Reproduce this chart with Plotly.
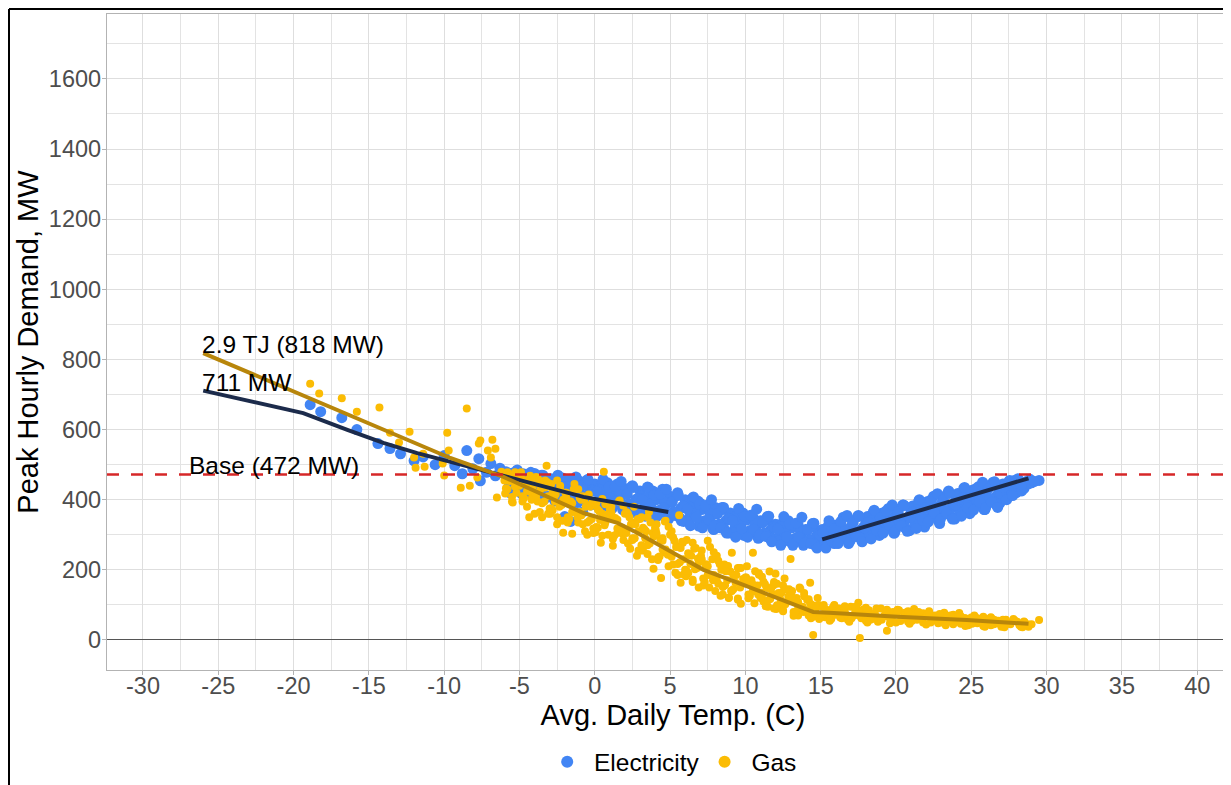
import plotly.graph_objects as go

# ---------------- data ----------------
elec_temp = [
    -18.9, -18.2, -16.8, -15.8, -14.4, -13.6, -12.9, -12.0, -11.4, -10.6, -10.0, -9.3, -8.8, -8.5, -8.1,
    -7.7, -7.6, -7.2, -6.9, -6.6, -6.3,
    -5.9, -5.7, -5.5, -5.3, -5.1, -5.0,
    -4.9, -4.7, -4.5, -4.3, -4.1, -4.0,
    -3.9, -3.7, -3.5, -3.3, -3.1, -3.0,
    -2.9, -2.7, -2.5, -2.3, -2.1, -2.0,
    -1.9, -1.7, -1.5, -1.3, -1.1, -1.0,
    -0.9, -0.7, -0.5, -0.3, -0.1, 0.0,
    0.1, 0.3, 0.5, 0.7, 0.9, 1.0,
    1.1, 1.3, 1.5, 1.7, 1.9, 2.0,
    2.1, 2.3, 2.5, 2.7, 2.9, 3.0,
    3.1, 3.3, 3.5, 3.7, 3.9, 4.0,
    4.1, 4.3, 4.5, 4.7, 4.9, 5.0,
    5.1, 5.3, 5.5, 5.7, 5.9, 6.0,
    6.1, 6.3, 6.5, 6.7, 6.9, 7.0,
    7.1, 7.3, 7.5, 7.7, 7.9, 8.0,
    8.1, 8.3, 8.5, 8.7, 8.9, 9.0,
    9.1, 9.3, 9.5, 9.7, 9.9, 10.0,
    10.1, 10.3, 10.5, 10.7, 10.9, 11.0,
    11.1, 11.3, 11.5, 11.7, 11.9, 12.0,
    12.1, 12.3, 12.5, 12.7, 12.9, 13.0,
    13.1, 13.3, 13.5, 13.7, 13.9, 14.0,
    14.1, 14.3, 14.5, 14.7, 14.9, 15.0,
    15.1, 15.3, 15.5, 15.7, 15.9, 16.0,
    16.1, 16.3, 16.5, 16.7, 16.9, 17.0,
    17.1, 17.3, 17.5, 17.7, 17.9, 18.0,
    18.1, 18.3, 18.5, 18.7, 18.9, 19.0,
    19.1, 19.3, 19.5, 19.7, 19.9, 20.0,
    20.1, 20.3, 20.5, 20.7, 20.9, 21.0,
    21.1, 21.3, 21.5, 21.7, 21.9, 22.0,
    22.1, 22.3, 22.5, 22.7, 22.9, 23.0,
    23.1, 23.3, 23.5, 23.7, 23.9, 24.0,
    24.1, 24.3, 24.5, 24.7, 24.9, 25.0,
    25.1, 25.3, 25.5, 25.7, 25.9, 26.0,
    26.1, 26.3, 26.5, 26.7, 26.9, 27.0,
    27.1, 27.3, 27.5, 27.7, 27.9, 28.0,
    28.2, 28.5, 28.8, 29.5,
    # second pass
    -5.75, -5.55, -5.35, -5.15, -4.75, -4.55, -4.35, -4.15,
    -3.75, -3.55, -3.35, -3.15, -2.75, -2.55, -2.35, -2.15,
    -1.75, -1.55, -1.35, -1.15, -0.75, -0.55, -0.35, -0.15,
    0.25, 0.45, 0.65, 0.85, 1.25, 1.45, 1.65, 1.85,
    2.25, 2.45, 2.65, 2.85, 3.25, 3.45, 3.65, 3.85,
    4.25, 4.45, 4.65, 4.85, 5.25, 5.45, 5.65, 5.85,
    6.25, 6.45, 6.65, 6.85, 7.25, 7.45, 7.65, 7.85,
    8.25, 8.45, 8.65, 8.85, 9.25, 9.45, 9.65, 9.85,
    10.25, 10.45, 10.65, 10.85, 11.25, 11.45, 11.65, 11.85,
    12.25, 12.45, 12.65, 12.85, 13.25, 13.45, 13.65, 13.85,
    14.25, 14.45, 14.65, 14.85, 15.25, 15.45, 15.65, 15.85,
    16.25, 16.45, 16.65, 16.85, 17.25, 17.45, 17.65, 17.85,
    18.25, 18.45, 18.65, 18.85, 19.25, 19.45, 19.65, 19.85,
    20.25, 20.45, 20.65, 20.85, 21.25, 21.45, 21.65, 21.85,
    22.25, 22.45, 22.65, 22.85, 23.25, 23.45, 23.65, 23.85,
    24.25, 24.45, 24.65, 24.85, 25.25, 25.45, 25.65, 25.85,
    26.25, 26.45, 26.65, 26.85, 27.25, 27.45, 27.65, 27.85,
    28.1, 28.35, 28.65, 29.0, -2.0, -1.6, -0.8,
    # third pass
    -5.85, -5.65, -5.45, -5.25, -5.05, -4.85, -4.65, -4.45, -4.25, -4.05,
    -3.85, -3.65, -3.45, -3.25, -3.05, -2.85, -2.65, -2.45, -2.25, -2.05,
    -1.85, -1.65, -1.45, -1.25, -1.05, -0.85, -0.65, -0.45, -0.25, -0.05,
    0.15, 0.35, 0.55, 0.75, 0.95, 1.15, 1.35, 1.55, 1.75, 1.95,
    2.15, 2.35, 2.55, 2.75, 2.95, 3.15, 3.35, 3.55, 3.75, 3.95,
    4.15, 4.35, 4.55, 4.75, 4.95, 5.15, 5.35, 5.55, 5.75, 5.95,
    6.15, 6.35, 6.55, 6.75, 6.95, 7.15, 7.35, 7.55, 7.75, 7.95,
    8.15, 8.35, 8.55, 8.75, 8.95, 9.15, 9.35, 9.55, 9.75, 9.95,
    10.15, 10.35, 10.55, 10.75, 10.95, 11.15, 11.35, 11.55, 11.75, 11.95,
    12.15, 12.35, 12.55, 12.75, 12.95, 13.15, 13.35, 13.55, 13.75, 13.95,
    14.15, 14.35, 14.55, 14.75, 14.95, 15.15, 15.35, 15.55, 15.75, 15.95,
    16.15, 16.35, 16.55, 16.75, 16.95, 17.15, 17.35, 17.55, 17.75, 17.95,
    18.15, 18.35, 18.55, 18.75, 18.95, 19.15, 19.35, 19.55, 19.75, 19.95,
    20.15, 20.35, 20.55, 20.75, 20.95, 21.15, 21.35, 21.55, 21.75, 21.95,
    22.15, 22.35, 22.55, 22.75, 22.95, 23.15, 23.35, 23.55, 23.75, 23.95,
    24.15, 24.35, 24.55, 24.75, 24.95, 25.15, 25.35, 25.55, 25.75, 25.95,
    26.15, 26.35, 26.55, 26.75, 26.95, 27.15, 27.35, 27.55, 27.75, 27.95,
    28.3, 28.9, 29.2,
]
elec_mw = [
    671, 651, 634, 600, 560, 546, 531, 511, 522, 500, 526, 497, 474, 540, 488,
    517, 454, 478, 503, 468, 490,
    480, 450, 470, 440, 462, 430,
    470, 445, 425, 460, 438, 475,
    455, 420, 440, 462, 410, 445,
    460, 425, 445, 400, 452, 430,
    415, 448, 395, 438, 455, 420,
    440, 405, 450, 425, 390, 445,
    430, 400, 448, 415, 380, 440,
    420, 395, 445, 405, 372, 432,
    415, 385, 440, 400, 365, 425,
    410, 378, 436, 392, 355, 420,
    400, 370, 430, 385, 345, 410,
    392, 360, 420, 375, 338, 400,
    385, 350, 405, 362, 325, 390,
    372, 340, 385, 350, 315, 378,
    360, 330, 372, 340, 305, 362,
    350, 318, 360, 330, 298, 352,
    342, 312, 350, 322, 292, 340,
    335, 305, 342, 315, 288, 330,
    328, 298, 335, 308, 282, 322,
    320, 290, 328, 300, 275, 315,
    312, 285, 322, 295, 272, 308,
    315, 283, 325, 298, 275, 310,
    328, 290, 350, 305, 282, 322,
    340, 300, 355, 315, 290, 335,
    352, 310, 365, 325, 298, 345,
    362, 320, 375, 335, 305, 355,
    372, 330, 385, 345, 312, 365,
    382, 340, 395, 355, 322, 375,
    395, 350, 410, 365, 332, 388,
    408, 362, 425, 378, 345, 400,
    418, 375, 432, 390, 360, 410,
    428, 388, 438, 400, 372, 420,
    440, 400, 448, 412, 390, 430,
    445, 415, 452, 425, 440, 420,
    450, 432, 445, 455,
    # second pass
    432, 474, 454, 485, 474, 430, 457, 414,
    430, 470, 413, 447, 408, 450, 430, 462,
    452, 408, 435, 392, 410, 455, 393, 427,
    388, 430, 410, 448, 432, 388, 415, 372,
    387, 437, 370, 404, 365, 407, 387, 425,
    410, 366, 393, 350, 365, 412, 348, 382,
    338, 380, 360, 396, 377, 333, 360, 317,
    330, 378, 313, 347, 305, 347, 327, 362,
    350, 306, 333, 290, 305, 352, 288, 322,
    282, 324, 304, 340, 327, 283, 310, 270,
    285, 332, 270, 302, 272, 312, 292, 328,
    332, 288, 315, 275, 305, 352, 290, 322,
    300, 342, 322, 360, 362, 318, 345, 305,
    335, 385, 318, 352, 330, 372, 352, 390,
    394, 350, 377, 338, 370, 420, 353, 387,
    365, 407, 387, 425, 427, 383, 410, 372,
    403, 450, 386, 420, 405, 442, 422, 455,
    460, 425, 452, 448, 352, 338, 365,
    # third pass
    467, 420, 476, 444, 470, 417, 472, 440, 478, 424,
    460, 420, 470, 405, 445, 443, 396, 470, 420, 456,
    395, 458, 418, 465, 402, 440, 400, 458, 385, 425,
    423, 376, 458, 400, 436, 375, 438, 398, 452, 382,
    417, 377, 435, 362, 402, 400, 353, 435, 377, 413,
    353, 416, 376, 430, 360, 395, 355, 413, 340, 380,
    373, 326, 408, 350, 386, 320, 383, 343, 400, 327,
    360, 320, 378, 305, 345, 340, 293, 375, 317, 353,
    293, 356, 316, 373, 300, 335, 295, 353, 280, 320,
    317, 270, 352, 294, 330, 270, 333, 293, 350, 277,
    315, 275, 333, 262, 300, 305, 262, 340, 282, 318,
    275, 338, 298, 355, 282, 335, 295, 353, 280, 320,
    335, 288, 370, 312, 348, 305, 368, 328, 385, 312,
    365, 325, 383, 310, 350, 365, 318, 400, 342, 378,
    337, 400, 360, 417, 344, 400, 360, 418, 345, 385,
    400, 353, 435, 377, 413, 370, 433, 393, 450, 377,
    433, 393, 451, 378, 418, 435, 400, 455, 412, 448,
    443, 458, 452,
]

gas_temp = [
    -18.9, -18.3, -16.8, -15.8, -14.3, -13.6, -13.0, -12.3, -12.0, -11.9, -11.4, -11.3,
    -10.1, -10.0, -9.8, -9.7, -8.9, -8.5, -8.3, -7.8, -7.7, -7.6, -7.1, -6.9, -6.8, -6.6,
    -6.5, -6.2, -6.0,
    -5.9, -5.8, -5.6, -5.5, -5.3, -5.2, -5.1, -5.0,
    -4.9, -4.8, -4.6, -4.5, -4.3, -4.2, -4.1, -4.0,
    -3.9, -3.8, -3.6, -3.5, -3.3, -3.2, -3.1, -3.0,
    -2.9, -2.8, -2.6, -2.5, -2.3, -2.2, -2.1, -2.0,
    -1.9, -1.8, -1.6, -1.5, -1.4, -1.2, -1.1, -1.0,
    -0.9, -0.8, -0.6, -0.5, -0.4, -0.2, -0.1, 0.0,
    0.1, 0.2, 0.4, 0.5, 0.6, 0.7, 0.9, 1.0,
    1.1, 1.2, 1.4, 1.5, 1.6, 1.8, 1.9, 2.0,
    2.1, 2.2, 2.4, 2.5, 2.6, 2.8, 2.9, 3.0,
    3.1, 3.2, 3.4, 3.5, 3.6, 3.8, 3.9, 4.0,
    4.1, 4.2, 4.4, 4.5, 4.6, 4.7, 4.9, 5.0,
    5.1, 5.2, 5.4, 5.5, 5.6, 5.7, 5.8, 5.9, 6.0,
    6.1, 6.2, 6.4, 6.5, 6.6, 6.8, 6.9, 7.0,
    7.1, 7.2, 7.4, 7.5, 7.6, 7.8, 7.9, 8.0,
    8.1, 8.2, 8.4, 8.5, 8.6, 8.8, 8.9, 9.0,
    9.1, 9.2, 9.4, 9.5, 9.6, 9.7, 9.8, 10.0,
    10.1, 10.2, 10.4, 10.5, 10.6, 10.8, 10.9, 11.0,
    11.1, 11.2, 11.4, 11.5, 11.6, 11.8, 11.9, 12.0,
    12.1, 12.2, 12.4, 12.5, 12.6, 12.8, 12.9, 13.0,
    13.1, 13.2, 13.4, 13.5, 13.6, 13.8, 13.9, 14.0,
    14.1, 14.2, 14.3, 14.4, 14.5, 14.6, 14.8, 14.9,
    15.1, 15.3, 15.5, 15.7, 15.9, 16.0,
    16.2, 16.4, 16.6, 16.8, 17.0, 17.2,
    17.4, 17.5, 17.6, 17.7, 17.9, 18.0,
    18.2, 18.4, 18.6, 18.8, 19.0, 19.2,
    19.4, 19.5, 19.7, 19.9, 20.0, 20.2,
    20.4, 20.6, 20.8, 21.0, 21.2, 21.4,
    21.6, 21.8, 22.0, 22.2, 22.4, 22.6,
    22.8, 23.0, 23.2, 23.4, 23.6, 23.8, 24.0, 24.2,
    24.4, 24.6, 24.8, 25.0, 25.2, 25.4, 25.6, 25.8,
    26.0, 26.3, 26.5, 26.8, 27.0, 27.3, 27.6, 27.9,
    28.2, 28.5, 28.8, 29.0, 29.5,
    # second pass
    -5.95, -5.8, -5.65, -5.45, -5.3, -5.15,
    -4.95, -4.8, -4.65, -4.5, -4.35, -4.15,
    -3.95, -3.8, -3.65, -3.5, -3.35, -3.15,
    -2.95, -2.8, -2.65, -2.5, -2.35, -2.15,
    -1.95, -1.8, -1.65, -1.5, -1.35, -1.15,
    -0.95, -0.8, -0.65, -0.5, -0.35, -0.15,
    0.05, 0.2, 0.35, 0.5, 0.65, 0.85,
    1.05, 1.2, 1.35, 1.5, 1.65, 1.85,
    2.05, 2.2, 2.35, 2.5, 2.65, 2.85,
    3.05, 3.2, 3.35, 3.5, 3.65, 3.85,
    4.05, 4.2, 4.35, 4.5, 4.65, 4.85,
    5.05, 5.2, 5.35, 5.5, 5.65, 5.85,
    6.05, 6.2, 6.35, 6.5, 6.65, 6.85,
    7.05, 7.2, 7.35, 7.5, 7.65, 7.85,
    8.05, 8.2, 8.35, 8.5, 8.65, 8.85,
    9.05, 9.2, 9.35, 9.5, 9.65, 9.85,
    10.05, 10.2, 10.35, 10.5, 10.65, 10.85,
    11.05, 11.2, 11.35, 11.5, 11.65, 11.85,
    12.05, 12.2, 12.35, 12.5, 12.65, 12.85,
    13.05, 13.2, 13.35, 13.5, 13.65, 13.85,
    14.05, 14.2, 14.35, 14.5, 14.65, 14.85,
    15.05, 15.3, 15.55, 15.8, 16.05, 16.3, 16.55, 16.8,
    17.05, 17.3, 17.55, 17.8, 18.05, 18.3, 18.55, 18.8,
    19.05, 19.3, 19.55, 19.8, 20.05, 20.3, 20.55, 20.8,
    21.05, 21.3, 21.55, 21.8, 22.05, 22.3, 22.55, 22.8,
    23.05, 23.3, 23.55, 23.8, 24.05, 24.3, 24.55, 24.8,
    25.05, 25.3, 25.55, 25.8, 26.05, 26.3, 26.55, 26.8,
    27.05, 27.3, 27.55, 27.8, 28.05, 28.3, 28.55, 28.8,
    # third pass
    -5.9, -5.7, -5.5, -5.3, -5.1, -4.9, -4.7, -4.5, -4.3, -4.1,
    -3.9, -3.7, -3.5, -3.3, -3.1, -2.9, -2.7, -2.5, -2.3, -2.1,
    -1.9, -1.7, -1.5, -1.3, -1.1, -0.9, -0.7, -0.5, -0.3, -0.1,
    0.1, 0.3, 0.5, 0.7, 0.9, 1.1, 1.3, 1.5, 1.7, 1.9,
    2.1, 2.3, 2.5, 2.7, 2.9, 3.1, 3.3, 3.5, 3.7, 3.9,
    4.1, 4.3, 4.5, 4.7, 4.9, 5.1, 5.3, 5.5, 5.7, 5.9,
    6.1, 6.3, 6.5, 6.7, 6.9, 7.1, 7.3, 7.5, 7.7, 7.9,
    8.1, 8.3, 8.5, 8.7, 8.9, 9.1, 9.3, 9.5, 9.7, 9.9,
    10.1, 10.3, 10.5, 10.7, 10.9, 11.1, 11.3, 11.5, 11.7, 11.9,
    12.1, 12.3, 12.5, 12.7, 12.9, 13.1, 13.3, 13.5, 13.7, 13.9,
    14.1, 14.3, 14.5, 14.7, 14.9,
    15.2, 15.9, 16.6, 17.3, 18.0, 18.7, 19.4, 20.1, 20.8, 21.5,
    22.2, 22.9, 23.6, 24.3, 25.0, 25.7, 26.4, 27.1, 27.8, 28.5,
    15.6, 16.9, 18.1, 19.6, 20.9, 22.0, 23.3, 24.6, 25.9, 27.2, 28.4,
]
gas_mw = [
    731, 703, 689, 651, 663, 591, 563, 594, 520, 491, 531, 494,
    503, 469, 591, 540, 434, 660, 440, 463, 560, 569, 540, 520, 571, 545,
    406, 480, 455,
    470, 430, 462, 395, 475, 420, 455, 440,
    478, 410, 455, 380, 468, 400, 440, 360,
    465, 395, 430, 350, 455, 497, 410, 375,
    445, 370, 415, 330, 430, 385, 306, 400,
    420, 350, 395, 303, 430, 365, 335, 405,
    400, 330, 380, 300, 415, 345, 318, 385,
    390, 320, 277, 360, 480, 335, 300, 372,
    380, 269, 345, 305, 395, 320, 285, 360,
    365, 275, 330, 290, 380, 240, 310, 345,
    350, 255, 310, 270, 365, 230, 203, 320,
    330, 235, 177, 290, 250, 340, 210, 300,
    310, 215, 265, 185, 356, 163, 280, 230, 200,
    285, 190, 240, 165, 260, 205, 150, 230,
    255, 175, 215, 283, 150, 230, 185, 140,
    240, 160, 200, 130, 215, 170, 120, 195,
    249, 145, 185, 118, 205, 103, 160, 178,
    210, 130, 170, 249, 105, 155, 190, 120,
    180, 110, 150, 95, 195, 130, 165, 189,
    160, 95, 135, 85, 175, 110, 145, 231,
    140, 80, 120, 70, 150, 95, 125, 85,
    115, 70, 163, 100, 14, 80, 120, 65,
    95, 65, 85, 60, 100, 72,
    90, 62, 82, 58, 95, 70,
    88, 106, 6, 62, 78, 55,
    85, 60, 75, 52, 90, 68,
    26, 80, 58, 72, 50, 85,
    62, 78, 52, 70, 88, 58,
    75, 50, 68, 82, 55, 70,
    48, 65, 78, 52, 68, 45, 60, 77,
    50, 62, 42, 58, 70, 48, 60, 40,
    55, 65, 45, 55, 38, 52, 45, 55,
    42, 50, 38, 45, 57,
    # second pass
    418, 478, 453, 392, 438, 466,
    472, 395, 455, 425, 350, 410,
    420, 462, 365, 440, 395, 450,
    360, 425, 395, 455, 380, 340,
    420, 335, 395, 365, 445, 350,
    365, 410, 310, 385, 340, 395,
    307, 372, 342, 402, 327, 357,
    373, 288, 348, 318, 398, 303,
    315, 360, 260, 335, 290, 345,
    255, 320, 290, 350, 275, 305,
    313, 228, 288, 258, 338, 243,
    247, 292, 192, 267, 222, 277,
    182, 247, 217, 277, 202, 232,
    240, 155, 215, 185, 265, 170,
    181, 226, 126, 201, 156, 211,
    140, 185, 163, 205, 150, 174,
    178, 119, 161, 140, 196, 130,
    135, 166, 96, 148, 117, 155,
    88, 134, 113, 155, 102, 124,
    128, 69, 111, 90, 146, 80,
    85, 116, 62, 98, 74, 100,
    70, 88, 72, 92, 82, 64, 78, 68,
    62, 82, 70, 86, 78, 58, 74, 64,
    58, 77, 64, 80, 74, 54, 70, 60,
    54, 72, 60, 76, 70, 50, 66, 56,
    50, 68, 56, 72, 66, 46, 62, 52,
    46, 64, 52, 66, 60, 42, 57, 47,
    42, 58, 48, 60, 52, 38, 50, 44,
    # third pass
    433, 470, 408, 478, 458, 470, 405, 450, 425, 462,
    410, 455, 390, 435, 360, 375, 420, 350, 440, 400,
    410, 345, 390, 365, 430, 355, 400, 335, 380, 305,
    322, 367, 297, 387, 347, 363, 298, 343, 318, 383,
    305, 350, 285, 330, 255, 270, 315, 245, 335, 295,
    303, 238, 283, 258, 323, 237, 282, 217, 262, 187,
    197, 242, 172, 262, 222, 230, 165, 210, 185, 250,
    171, 216, 151, 196, 121, 140, 185, 115, 205, 165,
    172, 126, 158, 140, 186, 127, 159, 113, 145, 90,
    99, 131, 82, 145, 116, 120, 78, 108, 92, 134,
    80, 104, 66, 92, 60,
    100, 98, 96, 95, 92, 90, 86, 86, 82, 80,
    76, 74, 70, 68, 64, 62, 60, 58, 56, 53,
    55, 52, 50, 48, 46, 44, 42, 40, 38, 36, 36,
]

# fitted lines
elec_fit_cold_temp = [-26.0, -19.36, -16.43, -14.04, -11.79, -9.59, -6.08, -0.76, 4.88]
elec_fit_cold_mw = [711, 647, 599, 562, 533, 508, 471, 408, 365]
elec_fit_warm_temp = [15.1, 28.8]
elec_fit_warm_mw = [287, 461]
gas_fit_temp = [-26.0, -9.6, -6.06, -0.75, 1.5, 2.84, 4.83, 7.22, 9.87, 12.5, 14.5, 15.86, 20.1, 24.7, 28.8]
gas_fit_mw = [818, 519, 465, 362, 334, 305, 257, 200, 157, 114, 80, 77, 66, 57, 46]

BASE_MW = 472
x_tick_vals = [-30, -25, -20, -15, -10, -5, 0, 5, 10, 15, 20, 25, 30, 35, 40]
x_tick_text = ["-30", "-25", "-20", "-15", "-10", "-5", "0", "5", "10", "15", "20", "25", "30", "35", "40"]
y_tick_vals = [0, 200, 400, 600, 800, 1000, 1200, 1400, 1600]

# ---------------- style ----------------
FONT = "Arial, 'Liberation Sans', sans-serif"
BLUE = "#4285F4"
GOLD = "#FBBC04"
NAVY = "#1C2B4B"
DKGOLD = "#B8860B"
RED = "#D62728"

ML, MT, MR = 99, 6, 0
W, H = 1231, 785
PLOT_BOTTOM = 662
MB = H - PLOT_BOTTOM
PW = W - ML - MR
PH = PLOT_BOTTOM - MT

fig = go.Figure()
fig.add_trace(go.Scatter(x=elec_temp, y=elec_mw, mode="markers", name=" Electricity",
                         marker=dict(color=BLUE, size=11, line=dict(width=0))))
fig.add_trace(go.Scatter(x=gas_temp, y=gas_mw, mode="markers", name=" Gas",
                         marker=dict(color=GOLD, size=8, line=dict(width=0))))
fig.add_trace(go.Scatter(x=elec_fit_cold_temp, y=elec_fit_cold_mw, mode="lines", showlegend=False,
                         line=dict(color=NAVY, width=4)))
fig.add_trace(go.Scatter(x=elec_fit_warm_temp, y=elec_fit_warm_mw, mode="lines", showlegend=False,
                         line=dict(color=NAVY, width=4)))
fig.add_trace(go.Scatter(x=gas_fit_temp, y=gas_fit_mw, mode="lines", showlegend=False,
                         line=dict(color=DKGOLD, width=4)))

fig.add_shape(type="line", xref="paper", yref="y", x0=0, x1=1, y0=BASE_MW, y1=BASE_MW,
              line=dict(color=RED, width=2.5, dash="12px,12px"), layer="above")

# outer frame (left and top edges of the figure)
fl = (1 - ML) / PW
ft = (PLOT_BOTTOM - 1) / PH
fb = (PLOT_BOTTOM - H) / PH
fig.add_shape(type="line", xref="paper", yref="paper", x0=fl, x1=fl, y0=fb, y1=ft,
              line=dict(color="black", width=2))
fig.add_shape(type="line", xref="paper", yref="paper", x0=fl, x1=1.0, y0=ft, y1=ft,
              line=dict(color="black", width=2))

ann_font = dict(family=FONT, size=24.5, color="black")
fig.add_annotation(x=gas_fit_temp[0], y=gas_fit_mw[0], text="2.9 TJ (818 MW)", showarrow=False,
                   xanchor="left", yanchor="bottom", xshift=-3, yshift=-7, font=ann_font)
fig.add_annotation(x=elec_fit_cold_temp[0], y=elec_fit_cold_mw[0], text="711 MW", showarrow=False,
                   xanchor="left", yanchor="bottom", xshift=-3, yshift=-7, font=ann_font)
fig.add_annotation(x=-26.9, y=BASE_MW, text="Base (472 MW)", showarrow=False,
                   xanchor="left", yanchor="bottom", xshift=-3, yshift=-7, font=ann_font)

grid = "#DEDEDE"
fig.update_layout(
    width=W, height=H,
    margin=dict(l=ML, r=MR, t=MT, b=MB),
    paper_bgcolor="white", plot_bgcolor="white",
    font=dict(family=FONT, color="black"),
    showlegend=True,
    legend=dict(orientation="h", x=0.5015, xanchor="center", y=-0.140, yanchor="middle",
                font=dict(size=24.5, color="black"), itemsizing="constant",
                bgcolor="rgba(0,0,0,0)"),
    xaxis=dict(
        range=[-32.39, -32.39 + PW / 15.06], tickmode="array", tickvals=x_tick_vals, ticktext=x_tick_text,
        showgrid=True, gridcolor=grid, gridwidth=1.3,
        minor=dict(dtick=2.5, tick0=0, showgrid=True, gridcolor="#E3E3E3", gridwidth=1),
        zeroline=False, showline=True, mirror=True, linecolor="#B3B3B3", linewidth=1.3,
        ticks="outside", ticklen=4, tickcolor="#B3B3B3", tickwidth=1.2,
        ticklabelstandoff=-9,
        tickfont=dict(size=23.5, color="#4D4D4D"),
        title=dict(text="Avg. Daily Temp. (C)", font=dict(size=29, color="black"), standoff=6),
    ),
    yaxis=dict(
        range=[-85.6, 1785], tickmode="array", tickvals=y_tick_vals,
        showgrid=True, gridcolor=grid, gridwidth=1.3,
        minor=dict(dtick=100, tick0=0, showgrid=True, gridcolor="#E3E3E3", gridwidth=1),
        zeroline=True, zerolinecolor="#555555", zerolinewidth=1.3,
        showline=True, mirror=False, linecolor="#B3B3B3", linewidth=1.3,
        ticks="outside", ticklen=4, tickcolor="#B3B3B3", tickwidth=1.2,
        ticklabelstandoff=-4,
        tickfont=dict(size=23.5, color="#4D4D4D"),
        title=dict(text="Peak Hourly Demand, MW", font=dict(size=29, color="black"), standoff=1),
    ),
)

fig.write_html("out.html")
